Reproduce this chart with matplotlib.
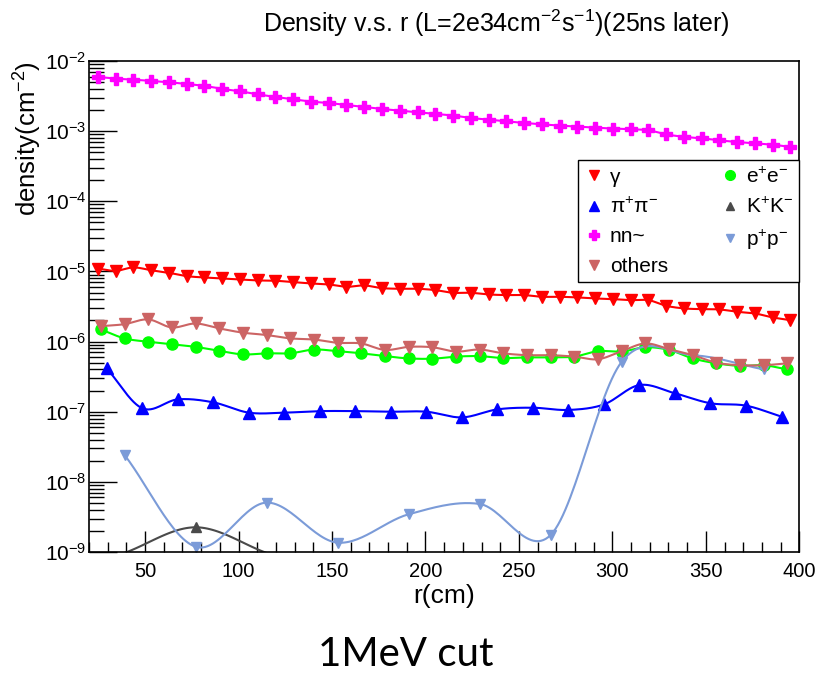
import numpy as np
import matplotlib
matplotlib.use("Agg")
import matplotlib.pyplot as plt
from matplotlib.lines import Line2D
from matplotlib.ticker import MultipleLocator, LogLocator, NullFormatter

plt.rcParams['font.family'] = ['Liberation Sans', 'DejaVu Sans']
plt.rcParams['mathtext.fontset'] = 'custom'
plt.rcParams['mathtext.rm'] = 'Liberation Sans'
plt.rcParams['mathtext.it'] = 'Liberation Sans:italic'

# bin centres (different binning per species)
r40 = np.linspace(24.75, 395.25, 40)
r30 = np.linspace(26.333, 393.667, 30)
r20 = np.linspace(29.5, 390.5, 20)
r10 = np.linspace(39.0, 381.0, 10)
r_kk = [39.0, 77.0, 115.0]

gamma = [1.10e-5, 1.02e-5, 1.14e-5, 1.04e-5, 9.56e-6, 8.57e-6, 8.2e-6, 7.94e-6, 7.69e-6, 7.44e-6,
         7.36e-6, 7.05e-6, 6.74e-6, 6.52e-6, 6.04e-6, 6.31e-6, 5.78e-6, 5.66e-6, 5.66e-6, 5.42e-6,
         4.96e-6, 4.96e-6, 4.70e-6, 4.60e-6, 4.60e-6, 4.35e-6, 4.35e-6, 4.26e-6, 4.12e-6, 4.03e-6,
         3.90e-6, 3.90e-6, 3.24e-6, 2.97e-6, 2.90e-6, 2.87e-6, 2.66e-6, 2.52e-6, 2.21e-6, 2.02e-6]

nn = [5.92e-3, 5.61e-3, 5.43e-3, 5.19e-3, 4.97e-3, 4.71e-3, 4.41e-3, 4.00e-3, 3.70e-3, 3.35e-3,
      3.07e-3, 2.85e-3, 2.64e-3, 2.52e-3, 2.36e-3, 2.21e-3, 2.07e-3, 1.96e-3, 1.86e-3, 1.76e-3,
      1.67e-3, 1.54e-3, 1.46e-3, 1.38e-3, 1.31e-3, 1.25e-3, 1.20e-3, 1.16e-3, 1.12e-3, 1.09e-3,
      1.065e-3, 1.03e-3, 9.0e-4, 8.3e-4, 7.9e-4, 7.4e-4, 7.0e-4, 6.7e-4, 6.4e-4, 5.96e-4]

ee = [1.49e-6, 1.11e-6, 9.95e-7, 9.2e-7, 8.4e-7, 7.4e-7, 6.56e-7, 6.8e-7, 6.8e-7, 7.7e-7,
      7.3e-7, 6.8e-7, 6.2e-7, 5.75e-7, 5.7e-7, 6.1e-7, 6.2e-7, 5.82e-7, 5.95e-7, 5.95e-7,
      6.1e-7, 7.3e-7, 7.2e-7, 8.3e-7, 7.6e-7, 5.75e-7, 4.9e-7, 4.5e-7, 4.6e-7, 4.0e-7]

others = [1.66e-6, 1.77e-6, 2.07e-6, 1.59e-6, 1.81e-6, 1.54e-6, 1.34e-6, 1.24e-6, 1.11e-6, 1.07e-6,
          9.6e-7, 9.4e-7, 7.6e-7, 8.4e-7, 8.3e-7, 7.2e-7, 7.7e-7, 6.8e-7, 6.4e-7, 6.4e-7,
          6.1e-7, 5.6e-7, 7.3e-7, 9.4e-7, 7.8e-7, 6.4e-7, 5.0e-7, 4.6e-7, 4.6e-7, 4.9e-7]

pipi = [4.15e-7, 1.12e-7, 1.50e-7, 1.36e-7, 9.7e-8, 9.7e-8, 1.02e-7, 1.02e-7, 1.0e-7, 1.0e-7,
        8.3e-8, 1.08e-7, 1.14e-7, 1.06e-7, 1.27e-7, 2.40e-7, 1.83e-7, 1.32e-7, 1.22e-7, 8.5e-8]

pp = [2.42e-8, 1.19e-9, 5.06e-9, 1.36e-9, 3.45e-9, 4.84e-9, 1.75e-9, 5.15e-7, 6.4e-7, 4.0e-7]

kk = [0.97e-9, 2.25e-9, 0.97e-9]

YMIN, YMAX = 1e-9, 1e-2


def smooth(x, y, n=30):
    # Catmull-Rom style curve through the points in log space
    x = np.asarray(x, float)
    p = np.log10(np.asarray(y, float))
    m = np.zeros_like(p)
    m[1:-1] = (p[2:] - p[:-2]) / 2.0
    m[0] = p[1] - p[0]
    m[-1] = p[-1] - p[-2]
    xs, ys = [], []
    t = np.linspace(0, 1, n)
    h00 = 2*t**3 - 3*t**2 + 1
    h10 = t**3 - 2*t**2 + t
    h01 = -2*t**3 + 3*t**2
    h11 = t**3 - t**2
    for i in range(len(x) - 1):
        xs.append(x[i] + (x[i+1] - x[i]) * t)
        ys.append(h00*p[i] + h10*m[i] + h01*p[i+1] + h11*m[i+1])
    return np.concatenate(xs), 10**np.concatenate(ys)


fig = plt.figure(figsize=(8.24, 6.74), dpi=100)
ax = fig.add_axes([0.108, 0.181, 0.862, 0.7285])

series = [
    ("γ", r40, gamma, '#ff0000', 'v', 8),
    ("e$^{+}$e$^{-}$", r30, ee, '#00ff00', 'o', 8),
    ("π$^{+}$π$^{-}$", r20, pipi, '#0000ff', '^', 8),
    ("K$^{+}$K$^{-}$", r_kk, kk, '#4a4a4a', '^', 7),
    ("nn~", r40, nn, '#ff00ff', 'P', 8.5),
    ("p$^{+}$p$^{-}$", r10, pp, '#7b9bd8', 'v', 7),
    ("others", r30, others, '#cc6464', 'v', 8),
]

handles = {}
for name, x, y, c, mk, ms in series:
    sx, sy = smooth(x, y)
    ax.plot(sx, sy, color=c, lw=1.5)
    # like ROOT, markers outside the frame are not drawn
    x = np.asarray(x, float)
    y = np.asarray(y, float)
    keep = y >= YMIN
    ax.plot(x[keep], y[keep], ls='none', marker=mk, ms=ms, color=c, mec=c)
    handles[name] = Line2D([], [], ls='none', marker=mk, ms=ms - 1, color=c, mec=c)

ax.set_yscale('log')
ax.set_xlim(20, 400)
ax.set_ylim(YMIN, YMAX)

ax.xaxis.set_major_locator(MultipleLocator(50))
ax.xaxis.set_minor_locator(MultipleLocator(10))
ax.yaxis.set_major_locator(LogLocator(base=10, numticks=20))
ax.yaxis.set_minor_locator(LogLocator(base=10, subs=np.arange(2, 10), numticks=20))
ax.yaxis.set_minor_formatter(NullFormatter())
ax.tick_params(axis='x', which='major', direction='in', length=15, width=1, labelsize=14.5, pad=7)
ax.tick_params(axis='x', which='minor', direction='in', length=7, width=1)
ax.tick_params(axis='y', which='major', direction='in', length=20, width=1, labelsize=15, pad=2)
ax.tick_params(axis='y', which='minor', direction='in', length=11, width=1)
for s in ax.spines.values():
    s.set_linewidth(1.2)

ax.set_xlabel('r(cm)', fontsize=19, labelpad=2)
ax.set_ylabel('density(cm$^{-2}$)', fontsize=18.5, loc='top')
ax.yaxis.set_label_coords(-0.064, 1.0)
fig.text(0.602, 0.965, 'Density v.s. r (L=2e34cm$^{-2}$s$^{-1}$)(25ns later)',
         fontsize=18, ha='center', va='center')

order = ["γ", "π$^{+}$π$^{-}$", "nn~", "others",
         "e$^{+}$e$^{-}$", "K$^{+}$K$^{-}$", "p$^{+}$p$^{-}$"]
leg = ax.legend([handles[k] for k in order], order, ncol=2, loc='upper left',
                bbox_to_anchor=(0.689, 0.798, 0.311, 0.0), mode='expand',
                fontsize=15, frameon=True, fancybox=False, framealpha=1,
                edgecolor='black', borderpad=0.3, labelspacing=0.5,
                handletextpad=0.3, handlelength=0.9, borderaxespad=0)
leg.get_frame().set_linewidth(1.0)

fig.text(0.493, 0.029, '1MeV cut', fontsize=29, ha='center', va='center', family='Lato')

fig.savefig('out.png', dpi=100)
